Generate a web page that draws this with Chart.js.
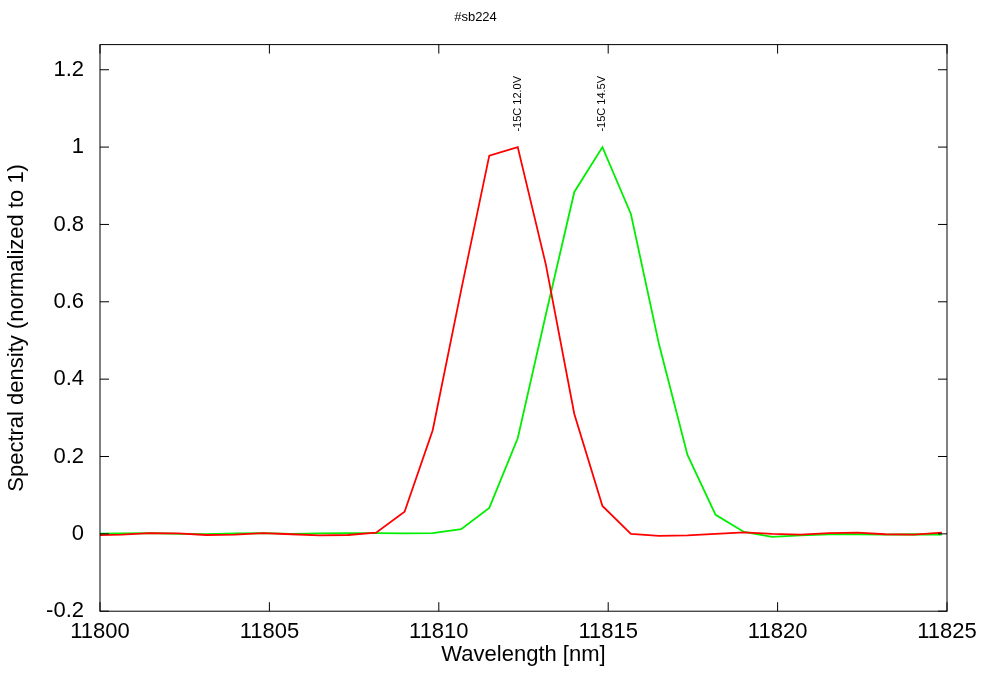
<!DOCTYPE html>
<html lang="en">
<head>
<meta charset="UTF-8">
<title>#sb224</title>
<script src="https://cdn.jsdelivr.net/npm/chart.js"></script>
<style>
  body { margin: 0; background: #fff; }
  #wrap { width: 994px; height: 677px; }
</style>
</head>
<body>
<div id="wrap"><canvas id="chart"></canvas></div>
<script>
// wavelength samples (nm)
const wavelengths = [11799.8, 11800.64, 11801.47, 11802.3, 11803.14, 11803.98, 11804.81, 11805.65, 11806.48, 11807.32,
  11808.15, 11808.99, 11809.82, 11810.66, 11811.49, 11812.33, 11813.16, 11814.0, 11814.83, 11815.67,
  11816.5, 11817.34, 11818.17, 11819.01, 11819.84, 11820.68, 11821.51, 11822.35, 11823.18, 11824.02, 11824.85];
const red = [-0.004, -0.002, 0.002, 0.001, -0.003, -0.002, 0.002, -0.001, -0.004, -0.003,
  0.003, 0.057, 0.268, 0.63, 0.978, 1.0, 0.696, 0.31, 0.072, 0.0,
  -0.005, -0.004, 0.0, 0.004, 0.0, -0.002, 0.002, 0.003, -0.001, -0.002, 0.003];
const green = [0.0, 0.001, 0.002, 0.0, -0.001, 0.001, 0.002, 0.0, 0.001, 0.002,
  0.002, 0.001, 0.002, 0.012, 0.067, 0.247, 0.567, 0.884, 1.0, 0.827,
  0.49, 0.204, 0.049, 0.005, -0.008, -0.004, -0.001, -0.001, -0.002, -0.001, -0.002];
const yTicks = [-0.2, 0, 0.2, 0.4, 0.6, 0.8, 1, 1.2];
const xTicks = [11800, 11805, 11810, 11815, 11820, 11825];
const labels = ['-15C 12.0V', '-15C 14.5V'];
const peaks = [11812.33, 11814.83];

const FONT = "'Liberation Sans', Arial, sans-serif";

const framePlugin = {
  id: 'frame',
  afterDraw(chart) {
    const { ctx, chartArea: a, scales: { x, y } } = chart;
    ctx.save();
    ctx.strokeStyle = '#000';
    ctx.lineWidth = 1;
    ctx.strokeRect(a.left, a.top, a.right - a.left, a.bottom - a.top);
    xTicks.forEach(v => {
      const px = x.getPixelForValue(v);
      ctx.beginPath();
      ctx.moveTo(px, a.bottom); ctx.lineTo(px, a.bottom - 9);
      ctx.moveTo(px, a.top); ctx.lineTo(px, a.top + 9);
      ctx.stroke();
    });
    yTicks.forEach(v => {
      const py = y.getPixelForValue(v);
      ctx.beginPath();
      ctx.moveTo(a.left, py); ctx.lineTo(a.left + 9, py);
      ctx.moveTo(a.right, py); ctx.lineTo(a.right - 9, py);
      ctx.stroke();
    });
    // peak annotations
    ctx.fillStyle = '#000';
    ctx.font = '11px ' + FONT;
    ctx.textAlign = 'left';
    ctx.textBaseline = 'middle';
    peaks.forEach((p, i) => {
      ctx.save();
      ctx.translate(x.getPixelForValue(p), y.getPixelForValue(1.04));
      ctx.rotate(-Math.PI / 2);
      ctx.fillText(labels[i], 0, 0);
      ctx.restore();
    });
    ctx.restore();
  }
};

new Chart(document.getElementById('chart'), {
  type: 'line',
  data: {
    labels: wavelengths,
    datasets: [
      { data: wavelengths.map((w, i) => ({ x: w, y: red[i] })), borderColor: '#ff0000', borderWidth: 1.8, pointRadius: 0, tension: 0 },
      { data: wavelengths.map((w, i) => ({ x: w, y: green[i] })), borderColor: '#00ee00', borderWidth: 1.8, pointRadius: 0, tension: 0 }
    ]
  },
  options: {
    responsive: true,
    maintainAspectRatio: false,
    animation: false,
    layout: { padding: { top: 6, right: 47, bottom: 9, left: 4 } },
    plugins: {
      legend: { display: false },
      tooltip: { enabled: false },
      title: { display: true, text: '#sb224', color: '#000', font: { family: FONT, size: 13, weight: 'normal' }, padding: { top: 4, bottom: 19 } }
    },
    scales: {
      x: {
        type: 'linear', min: 11800, max: 11825,
        grid: { display: false },
        border: { display: false },
        afterBuildTicks(s) { s.ticks = xTicks.map(v => ({ value: v })); },
        ticks: { color: '#000', font: { family: FONT, size: 22 }, padding: 0, maxRotation: 0,
          callback: v => String(v) },
        title: { display: true, text: 'Wavelength [nm]', color: '#000', font: { family: FONT, size: 22 }, padding: { top: -4, bottom: 0 } }
      },
      y: {
        min: -0.2, max: 1.265,
        grid: { display: false },
        border: { display: false },
        afterFit(s) { s.width = 96; },
        afterBuildTicks(s) { s.ticks = yTicks.map(v => ({ value: v })); },
        ticks: { color: '#000', font: { family: FONT, size: 22 }, padding: 8,
          callback: v => Math.abs(v) < 1e-9 ? '0' : String(Math.round(v * 10) / 10) },
        title: { display: true, text: 'Spectral density (normalized to 1)', color: '#000', font: { family: FONT, size: 22 }, padding: 0 }
      }
    }
  },
  plugins: [framePlugin]
});
</script>
</body>
</html>
